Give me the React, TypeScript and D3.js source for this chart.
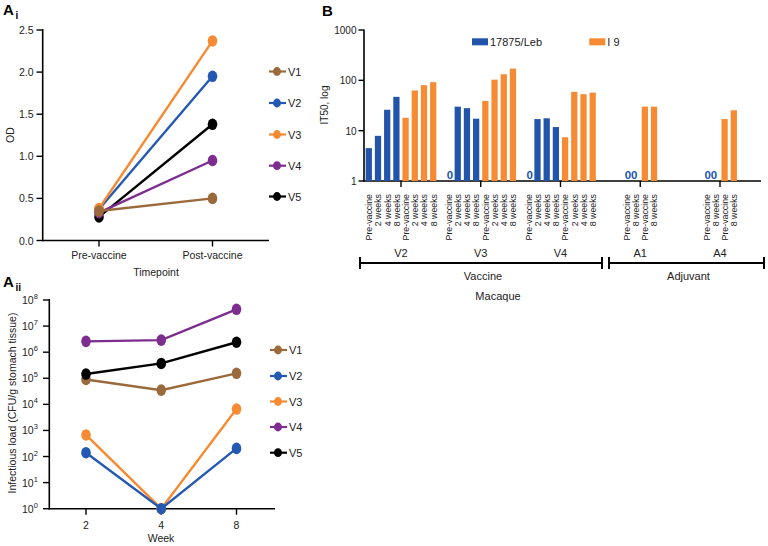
import React from "react";
import * as d3 from "d3";

const FONT = "'Liberation Sans', Arial, Helvetica, sans-serif";

// ---------- Panel Ai ----------
const timepoints = ["Pre-vaccine", "Post-vaccine"];
const animals = ["V1", "V2", "V3", "V4", "V5"];
const colors: Record<string, string> = {
  V1: "#9b6a3c",
  V2: "#2459b3",
  V3: "#f68b33",
  V4: "#7d2c8f",
  V5: "#000000",
};
const odV1 = [0.35, 0.5];
const odV2 = [0.37, 1.95];
const odV3 = [0.38, 2.37];
const odV4 = [0.33, 0.95];
const odV5 = [0.28, 1.38];
const odTicks = [0, 0.5, 1.0, 1.5, 2.0, 2.5];

// ---------- Panel Aii ----------
const weeks = ["2", "4", "8"];
const loadV1 = [9e4, 3.5e4, 1.55e5];
const loadV2 = [140, 1, 205];
const loadV3 = [670, 1, 6600];
const loadV4 = [2.6e6, 2.9e6, 4.4e7];
const loadV5 = [1.45e5, 3.7e5, 2.4e6];
const loadTickExps = [0, 1, 2, 3, 4, 5, 6, 7, 8];

// ---------- Panel B ----------
const macaques = ["V2", "V3", "V4", "A1", "A4"];
const vaccineSlots = ["Pre-vaccine", "2 weeks", "4 weeks", "8 weeks"];
const adjuvantSlots = ["Pre-vaccine", "8 weeks"];
const leb = {
  V2: [4.5, 7.9, 26, 47],
  V3: [0, 30, 28, 17.3],
  V4: [0, 17, 17.6, 11.8],
  A1: [0, 0],
  A4: [0, 0],
} as Record<string, number[]>;
const i9 = {
  V2: [18, 63, 80, 92],
  V3: [39, 103, 132, 171],
  V4: [7.4, 59, 53, 57],
  A1: [30, 30],
  A4: [17, 25.4],
} as Record<string, number[]>;
const it50Ticks = [1, 10, 100, 1000];
const seriesNames = ["17875/Leb", "I 9"];
const barColors = ["#2255a9", "#f68b33"];

function Marker({ cx, cy, color }: { cx: number; cy: number; color: string }) {
  return <ellipse cx={cx} cy={cy} rx={4.8} ry={5.8} fill={color} />;
}

function Legend({ x, ys }: { x: number; ys: number[] }) {
  return (
    <g>
      {animals.map((a, i) => (
        <g key={a}>
          <line x1={x} x2={x + 17} y1={ys[i]} y2={ys[i]} stroke={colors[a]} strokeWidth={2.2} />
          <ellipse cx={x + 8} cy={ys[i]} rx={4} ry={4.4} fill={colors[a]} />
          <text x={x + 19} y={ys[i] + 4} fontSize={11} fill="#222">
            {a}
          </text>
        </g>
      ))}
    </g>
  );
}

export default function App() {
  // ----- Ai scales
  const xAi = d3.scalePoint<string>().domain(timepoints).range([99, 212.5]);
  const yAi = d3.scaleLinear().domain([0, 2.5]).range([240.5, 30]);
  const odSeries: Record<string, number[]> = { V1: odV1, V2: odV2, V3: odV3, V4: odV4, V5: odV5 };
  const odOrder = ["V2", "V3", "V5", "V4", "V1"];
  const lineAi = d3
    .line<number>()
    .x((_, i) => xAi(timepoints[i])!)
    .y((d) => yAi(d));

  // ----- Aii scales
  const xAii = d3.scalePoint<string>().domain(weeks).range([86, 236.5]);
  const yAii = d3.scaleLog().domain([1, 1e8]).range([508.7, 300]);
  const loadSeries: Record<string, number[]> = { V1: loadV1, V2: loadV2, V3: loadV3, V4: loadV4, V5: loadV5 };
  const loadOrder = ["V3", "V2", "V1", "V5", "V4"];
  const lineAii = d3
    .line<number>()
    .x((_, i) => xAii(weeks[i])!)
    .y((d) => yAii(d));

  // ----- B scales
  const xGroup = d3.scalePoint<string>().domain(macaques).range([401, 720]);
  const yB = d3.scaleLog().domain([1, 1000]).range([181, 30]);
  const STEP = 9.2;
  const bars: { key: string; x: number; w: number; v: number; s: number; label: string }[] = [];
  const groupTickX: Record<string, number> = {};
  macaques.forEach((m) => {
    const slots = m.startsWith("V") ? vaccineSlots : adjuvantSlots;
    const n = slots.length * 2;
    const c = xGroup(m)!;
    groupTickX[m] = c;
    const inner = d3
      .scaleBand<number>()
      .domain(d3.range(n))
      .range([c - (n * STEP) / 2, c + (n * STEP) / 2])
      .paddingInner(0.32)
      .paddingOuter(0.16);
    [leb[m], i9[m]].forEach((vals, s) => {
      vals.forEach((v, j) => {
        const idx = s * slots.length + j;
        bars.push({ key: `${m}-${idx}`, x: inner(idx)!, w: inner.bandwidth(), v, s, label: slots[j] });
      });
    });
  });

  return (
    <svg
      width={768}
      height={546}
      style={{ position: "absolute", left: 0, top: 0, fontFamily: FONT }}
    >
      <rect width={768} height={546} fill="#fff" />

      {/* ================= Panel Ai ================= */}
      <text x={3} y={15} fontSize={15} fontWeight="bold">A</text>
      <text x={15.5} y={19} fontSize={10} fontWeight="bold">i</text>
      <line x1={42.7} x2={42.7} y1={29} y2={241.2} stroke="#000" strokeWidth={1.6} />
      <line x1={42} x2={269} y1={240.5} y2={240.5} stroke="#000" strokeWidth={1.6} />
      {odTicks.map((t) => (
        <g key={t}>
          <line x1={36.5} x2={42.7} y1={yAi(t)} y2={yAi(t)} stroke="#000" strokeWidth={1.4} />
          <text x={33.5} y={yAi(t) + 4} fontSize={10.5} textAnchor="end" fill="#222">
            {t.toFixed(1)}
          </text>
        </g>
      ))}
      {timepoints.map((t) => (
        <g key={t}>
          <line x1={xAi(t)} x2={xAi(t)} y1={240.5} y2={246.5} stroke="#000" strokeWidth={1.4} />
          <text x={xAi(t)} y={259} fontSize={10.5} textAnchor="middle" fill="#222">
            {t}
          </text>
        </g>
      ))}
      <text x={156} y={276} fontSize={10.5} textAnchor="middle" fill="#222">Timepoint</text>
      <text transform="translate(14,135) rotate(-90)" fontSize={10.5} textAnchor="middle" fill="#222">OD</text>
      {odOrder.map((a) => (
        <g key={a}>
          <path d={lineAi(odSeries[a])!} fill="none" stroke={colors[a]} strokeWidth={2.4} />
          {odSeries[a].map((v, i) => (
            <Marker key={i} cx={xAi(timepoints[i])!} cy={yAi(v)} color={colors[a]} />
          ))}
        </g>
      ))}
      <Legend x={269} ys={[71.5, 103, 134.5, 165.7, 196.5]} />

      {/* ================= Panel Aii ================= */}
      <text x={3} y={287} fontSize={15} fontWeight="bold">A</text>
      <text x={15.5} y={291} fontSize={10} fontWeight="bold">ii</text>
      <line x1={49.3} x2={49.3} y1={299} y2={509.4} stroke="#000" strokeWidth={1.6} />
      <line x1={48.5} x2={275} y1={508.7} y2={508.7} stroke="#000" strokeWidth={1.6} />
      {loadTickExps.map((e) => {
        const y = yAii(Math.pow(10, e));
        return (
          <g key={e}>
            <line x1={43} x2={49.3} y1={y} y2={y} stroke="#000" strokeWidth={1.4} />
            <text x={22} y={y + 4} fontSize={10.5} fill="#222">
              10
              <tspan dy={-5} fontSize={7.5}>{e}</tspan>
            </text>
          </g>
        );
      })}
      {weeks.map((w) => (
        <g key={w}>
          <line x1={xAii(w)} x2={xAii(w)} y1={508.7} y2={514.7} stroke="#000" strokeWidth={1.4} />
          <text x={xAii(w)} y={529} fontSize={10.5} textAnchor="middle" fill="#222">
            {w}
          </text>
        </g>
      ))}
      <text x={161} y={542} fontSize={10.5} textAnchor="middle" fill="#222">Week</text>
      <text transform="translate(15.5,403) rotate(-90)" fontSize={10.5} textAnchor="middle" fill="#222">
        Infectious load (CFU/g stomach tissue)
      </text>
      {loadOrder.map((a) => (
        <g key={a}>
          <path d={lineAii(loadSeries[a])!} fill="none" stroke={colors[a]} strokeWidth={2.4} />
          {loadSeries[a].map((v, i) => (
            <Marker key={i} cx={xAii(weeks[i])!} cy={yAii(v)} color={colors[a]} />
          ))}
        </g>
      ))}
      <Legend x={270} ys={[350, 376, 401.5, 427, 452.7]} />

      {/* ================= Panel B ================= */}
      <text x={322} y={15.5} fontSize={15} fontWeight="bold">B</text>
      <line x1={364} x2={364} y1={29.5} y2={181.7} stroke="#000" strokeWidth={1.6} />
      <line x1={363.5} x2={761} y1={181} y2={181} stroke="#000" strokeWidth={1.6} />
      {it50Ticks.map((t) => (
        <g key={t}>
          <line x1={358.5} x2={364} y1={yB(t)} y2={yB(t)} stroke="#000" strokeWidth={1.4} />
          <text x={356.5} y={yB(t) + 4} fontSize={10} textAnchor="end" fill="#222">
            {t}
          </text>
        </g>
      ))}
      <text transform="translate(328,105) rotate(-90)" fontSize={10} textAnchor="middle" fill="#222">
        IT50, log
      </text>
      {bars.map((b) =>
        b.v > 0 ? (
          <rect
            key={b.key}
            x={b.x}
            y={yB(b.v)}
            width={b.w}
            height={yB(1) - yB(b.v)}
            fill={barColors[b.s]}
          />
        ) : (
          <text
            key={b.key}
            x={b.x + b.w / 2 + (b.label === "8 weeks" ? -1.5 : 1.5)}
            y={178.5}
            fontSize={11.5}
            fontWeight="bold"
            textAnchor="middle"
            fill={barColors[0]}
          >
            0
          </text>
        )
      )}
      {bars.map((b) => (
        <text
          key={"l" + b.key}
          transform={`translate(${b.x + b.w / 2 + 3.3},194) rotate(-90)`}
          fontSize={8.8}
          textAnchor="end"
          fill="#222"
        >
          {b.label}
        </text>
      ))}
      {macaques.map((m) => (
        <g key={m}>
          <line x1={groupTickX[m]} x2={groupTickX[m]} y1={181} y2={187} stroke="#000" strokeWidth={1.4} />
          <text x={groupTickX[m]} y={257} fontSize={11} textAnchor="middle" fill="#222">
            {m}
          </text>
        </g>
      ))}
      {/* brackets */}
      {[
        { x1: 360, x2: 602, label: "Vaccine" },
        { x1: 609, x2: 764, label: "Adjuvant" },
      ].map((br) => (
        <g key={br.label}>
          <line x1={br.x1} x2={br.x2} y1={263} y2={263} stroke="#000" strokeWidth={2} />
          <line x1={br.x1} x2={br.x1} y1={257} y2={269} stroke="#000" strokeWidth={2} />
          <line x1={br.x2} x2={br.x2} y1={257} y2={269} stroke="#000" strokeWidth={2} />
          <text x={(br.x1 + br.x2) / 2 + 2} y={280} fontSize={11} textAnchor="middle" fill="#222">
            {br.label}
          </text>
        </g>
      ))}
      <text x={498} y={300} fontSize={11} textAnchor="middle" fill="#222">Macaque</text>

      {/* legend B */}
      {seriesNames.map((s, i) => (
        <g key={s}>
          <rect x={472 + i * 117.3} y={38.3} width={16} height={7} fill={barColors[i]} />
          <text x={490 + i * 117.3} y={46} fontSize={11} fill="#222">
            {s}
          </text>
        </g>
      ))}
    </svg>
  );
}
